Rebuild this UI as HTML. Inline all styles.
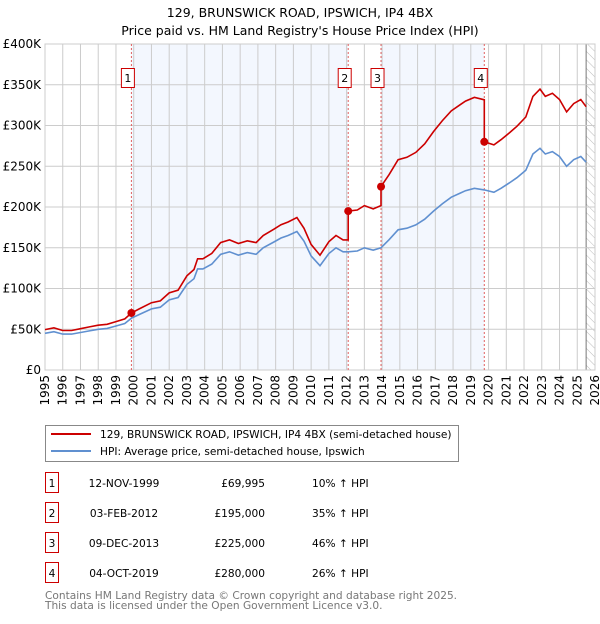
<!DOCTYPE html>
<html><head><meta charset="utf-8"><style>
body{margin:0;background:#fff;width:600px;height:620px;overflow:hidden;font-family:"DejaVu Sans","Liberation Sans",sans-serif}
svg text{font-family:"DejaVu Sans","Liberation Sans",sans-serif}
</style></head><body>
<svg id="c" width="600" height="620" xmlns="http://www.w3.org/2000/svg">
<defs><pattern id="hatch" width="6" height="6" patternUnits="userSpaceOnUse" patternTransform="rotate(-45)"><line x1="0" y1="0" x2="0" y2="6" stroke="#bbb" stroke-width="1"/></pattern></defs>
<text x="300" y="17" text-anchor="middle" font-size="12.5">129, BRUNSWICK ROAD, IPSWICH, IP4 4BX</text>
<text x="300" y="35" text-anchor="middle" font-size="12.5">Price paid vs. HM Land Registry's House Price Index (HPI)</text>
<g id="plot"></g>
<g>
<rect x="45.5" y="425.5" width="413" height="36" fill="#fff" stroke="#888"/>
<line x1="51" y1="434" x2="91" y2="434" stroke="#cc0000" stroke-width="2"/>
<text x="100" y="438" font-size="10.6">129, BRUNSWICK ROAD, IPSWICH, IP4 4BX (semi-detached house)</text>
<line x1="51" y1="451" x2="91" y2="451" stroke="#6090d0" stroke-width="2"/>
<text x="100" y="455" font-size="10.6">HPI: Average price, semi-detached house, Ipswich</text>
</g>
<g id="table"></g>
<text x="45" y="599" font-size="10.6" fill="#777">Contains HM Land Registry data © Crown copyright and database right 2025.</text>
<text x="45" y="609" font-size="10.6" fill="#777">This data is licensed under the Open Government Licence v3.0.</text>
</svg>
<script>
const hpiYears=[1995,1995.5,1996,1996.5,1997,1997.5,1998,1998.5,1999,1999.5,1999.87,2000.3,2001,2001.5,2002,2002.5,2003,2003.4,2003.6,2003.9,2004.4,2004.9,2005.4,2005.9,2006.4,2006.9,2007.3,2007.9,2008.3,2008.7,2009.2,2009.6,2010,2010.5,2011,2011.4,2011.8,2012.09,2012.6,2013,2013.5,2013.94,2014.4,2014.9,2015.4,2015.9,2016.4,2016.9,2017.4,2017.9,2018.4,2018.7,2019.2,2019.76,2020.3,2020.7,2021.2,2021.6,2022.1,2022.5,2022.9,2023.2,2023.6,2024.0,2024.4,2024.8,2025.2,2025.5];
const hpiValues=[45,47,44,44,46,48,50,51,54,57,63.6,68,75,77,86,89,105,112,124,124,130,142,145,141,144,142,150,157,162,165,170,158,140,128,143,150,145,145,146,150,147,150,160,172,174,178,185,195,204,212,217,220,223,221,218,223,230,236,245,265,272,265,268,262,250,258,262,255];
const saleYears=[1999.87,2012.09,2013.94,2019.76];
const salePrices=[69995,195000,225000,280000];
const saleLabels=["1","2","3","4"];
const saleDates=["12-NOV-1999","03-FEB-2012","09-DEC-2013","04-OCT-2019"];
const salePriceText=["£69,995","£195,000","£225,000","£280,000"];
const saleHpiText=["10% ↑ HPI","35% ↑ HPI","46% ↑ HPI","26% ↑ HPI"];
const yTicks=[0,50,100,150,200,250,300,350,400];
const yTickLabels=["£0","£50K","£100K","£150K","£200K","£250K","£300K","£350K","£400K"];
const xTicks=[1995,1996,1997,1998,1999,2000,2001,2002,2003,2004,2005,2006,2007,2008,2009,2010,2011,2012,2013,2014,2015,2016,2017,2018,2019,2020,2021,2022,2023,2024,2025,2026];

const NS="http://www.w3.org/2000/svg";
const X0=45,X1=595,Y0=370,Y1=44,XMIN=1995,XMAX=2026,YMAX=400;
const xs=v=>X0+(v-XMIN)/(XMAX-XMIN)*(X1-X0);
const ys=v=>Y0-v/YMAX*(Y0-Y1);
function mk(tag,attrs,parent){const e=document.createElementNS(NS,tag);for(const k in attrs)e.setAttribute(k,attrs[k]);parent.appendChild(e);return e;}
function hpiAt(t){for(let i=1;i<hpiYears.length;i++){if(t<=hpiYears[i]){const a=hpiYears[i-1],b=hpiYears[i];return hpiValues[i-1]+(hpiValues[i]-hpiValues[i-1])*(t-a)/(b-a);}}return hpiValues[hpiValues.length-1];}
const plot=document.getElementById('plot');
for(let i=0;i<saleYears.length-1;i+=2){
  const r=mk('rect',{x:xs(saleYears[i]),y:Y1,width:xs(saleYears[i+1])-xs(saleYears[i]),height:Y0-Y1,fill:'#eef3fd',opacity:0.7},plot);
  
  
}
const hz=mk('rect',{x:xs(2025.5),y:Y1,width:X1-xs(2025.5),height:Y0-Y1,fill:'url(#hatch)'},plot);


mk('line',{x1:xs(2025.5),y1:Y1,x2:xs(2025.5),y2:Y0,stroke:'#777','stroke-width':1},plot);
yTicks.forEach((v,i)=>{
  mk('line',{x1:X0,x2:X1,y1:ys(v),y2:ys(v),stroke:'#ccc','stroke-width':1},plot);
  const t=mk('text',{x:X0-4,y:ys(v)+4,'text-anchor':'end','font-size':12},plot);
  t.textContent=yTickLabels[i];
  
  
});
xTicks.forEach(v=>{
  mk('line',{x1:xs(v),x2:xs(v),y1:Y1,y2:Y0,stroke:'#ccc','stroke-width':1},plot);
  const t=mk('text',{x:0,y:0,'text-anchor':'end','font-size':12,transform:`translate(${xs(v)+4},${Y0+5}) rotate(-90)`},plot);
  t.textContent=v;
  
  
});
mk('rect',{x:X0,y:Y1,width:X1-X0,height:Y0-Y1,fill:'none',stroke:'#ccc'},plot);
saleYears.forEach(s=>{
  const l=mk('line',{x1:xs(s),x2:xs(s),y1:Y1,y2:Y0,stroke:'#e06060','stroke-width':1,'stroke-dasharray':'2,2'},plot);
  
  
});
const hp=hpiYears.map((t,i)=>xs(t).toFixed(1)+','+ys(hpiValues[i]).toFixed(1)).join(' ');
const hl=mk('polyline',{points:hp,fill:'none',stroke:'#6090d0','stroke-width':1.6},plot);


const ratios=saleYears.map((s,i)=>salePrices[i]/1000/hpiAt(s));
const segIdx=t=>{let k=0;for(let i=0;i<saleYears.length;i++)if(t>=saleYears[i])k=i;return k;};
let pts=[];
hpiYears.forEach((t,i)=>{
  const k=segIdx(t);
  saleYears.forEach((s,j)=>{if(j>0&&s>hpiYears[i-1]&&s<=t&&s!==t){pts.push([s,hpiAt(s)*ratios[j-1]]);pts.push([s,hpiAt(s)*ratios[j]]);}});
  if(saleYears.includes(t)&&saleYears.indexOf(t)>0){const j=saleYears.indexOf(t);pts.push([t,hpiAt(t)*ratios[j-1]]);}
  pts.push([t,hpiValues[i]*ratios[k]]);
});
const pl=mk('polyline',{points:pts.map(p=>xs(p[0]).toFixed(1)+','+ys(p[1]).toFixed(1)).join(' '),fill:'none',stroke:'#cc0000','stroke-width':1.6},plot);


saleYears.forEach((s,i)=>{
  const c=mk('circle',{cx:xs(s),cy:ys(salePrices[i]/1000),r:4,fill:'#cc0000'},plot);
  
  
  const bx=xs(s)-10.5;
  const b=mk('rect',{x:bx+0.5,y:68.5,width:13,height:19,fill:'#fff',stroke:'#cc0000'},plot);
  
  
  const t=mk('text',{x:bx+7,y:82,'text-anchor':'middle','font-size':11},plot);
  t.textContent=saleLabels[i];
  
  
});
const tb=document.getElementById('table');
saleLabels.forEach((l,i)=>{
  const cy=483+i*30;
  const b=mk('rect',{x:45.5,y:cy-10.5,width:13,height:20,fill:'#fff',stroke:'#cc0000'},tb);
  
  
  const a=mk('text',{x:52,y:cy+4,'text-anchor':'middle','font-size':10.6},tb);a.textContent=l;
  
  
  const d=mk('text',{x:124,y:cy+4,'text-anchor':'middle','font-size':10.6},tb);d.textContent=saleDates[i];
  
  
  const p=mk('text',{x:265,y:cy+4,'text-anchor':'end','font-size':10.6},tb);p.textContent=salePriceText[i];
  
  
  const h=mk('text',{x:312,y:cy+4,'font-size':10.6},tb);h.textContent=saleHpiText[i];
  
  
});
</script>
</body></html>
